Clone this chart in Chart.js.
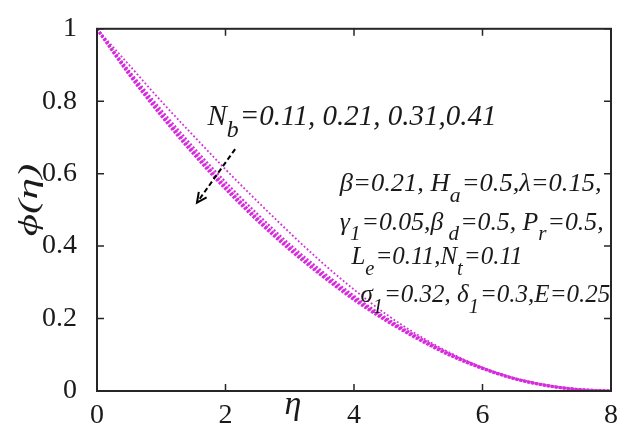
<!DOCTYPE html>
<html>
<head>
<meta charset="utf-8">
<script src="https://cdn.jsdelivr.net/npm/chart.js@4/dist/chart.umd.min.js"></script>
<style>
html,body{margin:0;padding:0;background:#fff;}
#wrap{width:630px;height:443px;position:relative;}
</style>
</head>
<body>
<div id="wrap"><canvas id="c" width="630" height="443"></canvas></div>
<script>
// Data
const eta = [0, 0.5, 1, 1.5, 2, 2.5, 3, 3.5, 4, 4.5, 5, 5.5, 6, 6.5, 7, 7.5, 8];
const phiNb011 = [1, 0.900, 0.800, 0.705, 0.612, 0.523, 0.437, 0.355, 0.280, 0.212, 0.154, 0.105, 0.065, 0.035, 0.016, 0.004, 0];
const phiNb021 = [1, 0.884, 0.776, 0.673, 0.577, 0.488, 0.405, 0.331, 0.263, 0.202, 0.149, 0.102, 0.064, 0.035, 0.016, 0.004, 0];
const phiNb031 = [1, 0.878, 0.766, 0.662, 0.565, 0.476, 0.396, 0.323, 0.257, 0.198, 0.146, 0.100, 0.063, 0.034, 0.015, 0.004, 0];
const phiNb041 = [1, 0.874, 0.760, 0.655, 0.558, 0.470, 0.390, 0.318, 0.252, 0.194, 0.143, 0.098, 0.062, 0.034, 0.015, 0.004, 0];
const xTicks = [0, 2, 4, 6, 8];
const yTicks = [0, 0.2, 0.4, 0.6, 0.8, 1];
const seriesLabels = ['N_b=0.11', 'N_b=0.21', 'N_b=0.31', 'N_b=0.41'];

const MAG = '#d62cdc';
const SERIF = '"Liberation Serif", "Times New Roman", serif';

function pts(ys){ return eta.map((x,i)=>({x:x, y:ys[i]})); }

function drawRich(ctx, x, y, parts, size, sx){
  ctx.save();
  ctx.translate(x, y);
  ctx.scale(sx || 1, 1);
  let cx = 0;
  for (const p of parts){
    const s = p.sub ? size*0.82 : size;
    ctx.font = 'italic ' + s + 'px ' + SERIF;
    const dy = p.sub ? size*0.42 : 0;
    ctx.fillText(p.t, cx, dy);
    cx += ctx.measureText(p.t).width + (p.sub ? 1 : 0);
  }
  ctx.restore();
}

const decor = {
  id: 'decor',
  afterDatasetsDraw(chart){
    const ctx = chart.ctx, a = chart.chartArea;
    const xs = chart.scales.x, ys = chart.scales.y;
    ctx.save();
    // box
    ctx.strokeStyle = '#262626';
    ctx.lineWidth = 2;
    ctx.strokeRect(a.left, a.top, a.right - a.left, a.bottom - a.top);
    // inner ticks
    ctx.lineWidth = 1.5;
    const tl = 7;
    xTicks.forEach(v=>{
      const px = xs.getPixelForValue(v);
      ctx.beginPath(); ctx.moveTo(px, a.bottom); ctx.lineTo(px, a.bottom - tl);
      ctx.moveTo(px, a.top); ctx.lineTo(px, a.top + tl); ctx.stroke();
    });
    yTicks.forEach(v=>{
      const py = ys.getPixelForValue(v);
      ctx.beginPath(); ctx.moveTo(a.left, py); ctx.lineTo(a.left + tl, py);
      ctx.moveTo(a.right, py); ctx.lineTo(a.right - tl, py); ctx.stroke();
    });
    // axis titles
    ctx.fillStyle = '#1a1a1a';
    ctx.textAlign = 'center';
    ctx.textBaseline = 'middle';
    ctx.font = 'italic 34px ' + SERIF;
    ctx.fillText('\u03B7', xs.getPixelForValue(3.05), 405);
    ctx.save();
    ctx.translate(30, 200);
    ctx.rotate(-Math.PI/2);
    ctx.scale(1.6, 1);
    ctx.font = 'italic 27px ' + SERIF;
    ctx.fillText('\u03D5(\u03B7)', 0, 0);
    ctx.restore();

    // N_b annotation
    ctx.textAlign = 'left';
    ctx.textBaseline = 'alphabetic';
    drawRich(ctx, xs.getPixelForValue(1.72), ys.getPixelForValue(0.735),
      [{t:'N'},{t:'b',sub:true},{t:'=0.11, 0.21, 0.31,0.41'}], 29, 1);

    // dashed arrow
    const x0 = xs.getPixelForValue(2.15), y0 = ys.getPixelForValue(0.668);
    const x1 = xs.getPixelForValue(1.556), y1 = ys.getPixelForValue(0.52);
    ctx.strokeStyle = '#000';
    ctx.lineWidth = 2;
    ctx.setLineDash([5,3]);
    ctx.beginPath(); ctx.moveTo(x0,y0); ctx.lineTo(x1,y1); ctx.stroke();
    ctx.setLineDash([]);
    const ang = Math.atan2(y1-y0, x1-x0);
    const ah = 11;
    ctx.beginPath();
    ctx.moveTo(x1 - ah*Math.cos(ang - 0.45), y1 - ah*Math.sin(ang - 0.45));
    ctx.lineTo(x1, y1);
    ctx.lineTo(x1 - ah*Math.cos(ang + 0.45), y1 - ah*Math.sin(ang + 0.45));
    ctx.stroke();

    // parameter block
    ctx.fillStyle = '#1a1a1a';
    const fs = 25;
    const lx = xs.getPixelForValue(3.78);
    drawRich(ctx, lx, ys.getPixelForValue(0.552),
      [{t:'\u03B2=0.21, H'},{t:'a',sub:true},{t:'=0.5,\u03BB=0.15,'}], fs, 1.06);
    drawRich(ctx, lx, ys.getPixelForValue(0.445),
      [{t:'\u03B3'},{t:'1',sub:true},{t:'=0.05,\u03B2'},{t:' d',sub:true},{t:'=0.5, P'},{t:'r',sub:true},{t:'=0.5,'}], fs, 1.03);
    drawRich(ctx, xs.getPixelForValue(3.96), ys.getPixelForValue(0.35),
      [{t:'L'},{t:'e',sub:true},{t:'=0.11,N'},{t:'t',sub:true},{t:'=0.11'}], fs, 1.0);
    drawRich(ctx, xs.getPixelForValue(4.1), ys.getPixelForValue(0.245),
      [{t:'\u03C3'},{t:'1',sub:true},{t:'=0.32, \u03B4'},{t:'1',sub:true},{t:'=0.3,E=0.25'}], fs, 1.0);
    ctx.restore();
  }
};

function ds(label, ys, w, dash){
  return {label, data: pts(ys), borderColor: MAG, borderWidth: w, borderDash: dash,
    pointRadius: 0, fill: false, cubicInterpolationMode: 'monotone'};
}

new Chart(document.getElementById('c'), {
  type: 'line',
  data: {
    datasets: [
      ds(seriesLabels[0], phiNb011, 1.8, [1.8, 2.2]),
      ds(seriesLabels[1], phiNb021, 2.2, [2, 2]),
      ds(seriesLabels[2], phiNb031, 3, [2.5, 1.5]),
      ds(seriesLabels[3], phiNb041, 3, [2.5, 1.5])
    ]
  },
  options: {
    responsive: false,
    animation: false,
    layout: { padding: { left: 0, top: 20, right: 19, bottom: 0 } },
    plugins: { legend: { display: false }, tooltip: { enabled: false } },
    scales: {
      x: {
        type: 'linear', min: 0, max: 8,
        afterFit(s){ s.height = 52; },
        afterBuildTicks(s){ s.ticks = xTicks.map(v=>({value:v})); },
        grid: { display: false }, border: { display: false },
        ticks: { color: '#1a1a1a', font: { family: SERIF, size: 28 }, padding: 0, maxRotation: 0 }
      },
      y: {
        type: 'linear', min: 0, max: 1,
        afterFit(s){ s.width = 97; },
        afterBuildTicks(s){ s.ticks = yTicks.map(v=>({value:v})); },
        grid: { display: false }, border: { display: false },
        ticks: { color: '#1a1a1a', font: { family: SERIF, size: 28 }, padding: 12,
          callback: v => String(Math.round(v*10)/10) }
      }
    }
  },
  plugins: [decor]
});
</script>
</body>
</html>
